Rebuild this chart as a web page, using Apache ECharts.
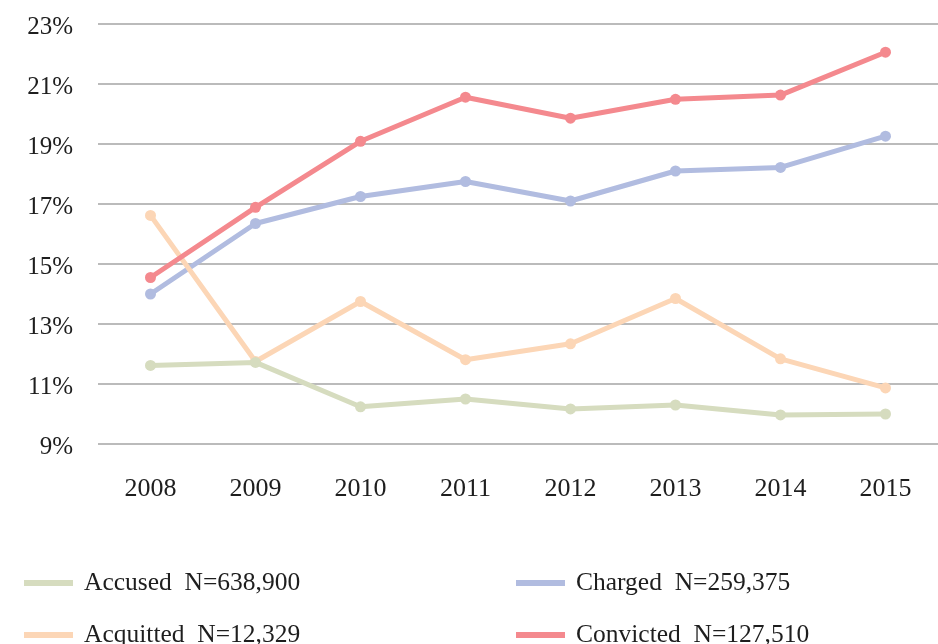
<!DOCTYPE html>
<html>
<head>
<meta charset="utf-8">
<script src="https://cdn.jsdelivr.net/npm/echarts@6/dist/echarts.min.js"></script>
<style>
  html, body { margin: 0; padding: 0; background: #fff; }
  #chart { width: 938px; height: 644px; }
</style>
</head>
<body>
<div id="chart"></div>
<script>
var years = ['2008', '2009', '2010', '2011', '2012', '2013', '2014', '2015'];
var accused = [11.62, 11.72, 10.24, 10.5, 10.17, 10.3, 9.97, 10.0];
var charged = [14.0, 16.35, 17.25, 17.75, 17.1, 18.1, 18.22, 19.26];
var acquitted = [16.62, 11.75, 13.75, 11.81, 12.34, 13.85, 11.84, 10.87];
var convicted = [14.55, 16.89, 19.09, 20.56, 19.86, 20.49, 20.63, 22.06];

var seriesNames = ['Accused  N=638,900', 'Charged  N=259,375', 'Acquitted  N=12,329', 'Convicted  N=127,510'];
var colors = ['#d6dcbf', '#b1bce0', '#fcd6b6', '#f4898e'];

var font = '"Liberation Serif", "DejaVu Serif", serif';
var chart = echarts.init(document.getElementById('chart'));

function line(name, data, color, z) {
    return {
        name: name,
        type: 'line',
        data: data,
        symbol: 'circle',
        symbolSize: 11,
        z: z,
        lineStyle: {color: color, width: 5},
        itemStyle: {color: color},
        emphasis: {disabled: true}
    };
}

var legendText = {
    fontFamily: font,
    fontSize: 25.5,
    color: '#1e1e1e',
    padding: [0, 0, 0, 6]
};

function legendCol(items, left) {
    return {
        data: items,
        orient: 'vertical',
        left: left,
        top: 565,
        height: 120,
        itemGap: 26,
        icon: 'rect',
        itemWidth: 49,
        itemHeight: 6,
        textStyle: legendText
    };
}

chart.setOption({
    animation: false,
    color: colors,
    grid: {left: 98, right: -30, top: 24, bottom: 200},
    legend: [
        legendCol([seriesNames[0], seriesNames[2]], 19),
        legendCol([seriesNames[1], seriesNames[3]], 511)
    ],
    xAxis: {
        type: 'category',
        data: years,
        boundaryGap: true,
        axisLine: {show: false},
        axisTick: {show: false},
        axisLabel: {fontFamily: font, fontSize: 26, color: '#1e1e1e', margin: 32}
    },
    yAxis: {
        type: 'value',
        min: 9,
        max: 23,
        interval: 2,
        axisLine: {show: false},
        axisTick: {show: false},
        splitLine: {lineStyle: {color: '#bbbbbb', width: 2}},
        axisLabel: {
            fontFamily: font, fontSize: 25, color: '#1e1e1e', margin: 25,
            formatter: '{value}%', verticalAlign: 'top', padding: [-9, 0, 0, 0]
        }
    },
    series: [
        line(seriesNames[0], accused, colors[0], 4),
        line(seriesNames[1], charged, colors[1], 2),
        line(seriesNames[2], acquitted, colors[2], 3),
        line(seriesNames[3], convicted, colors[3], 5)
    ]
});
</script>
</body>
</html>
